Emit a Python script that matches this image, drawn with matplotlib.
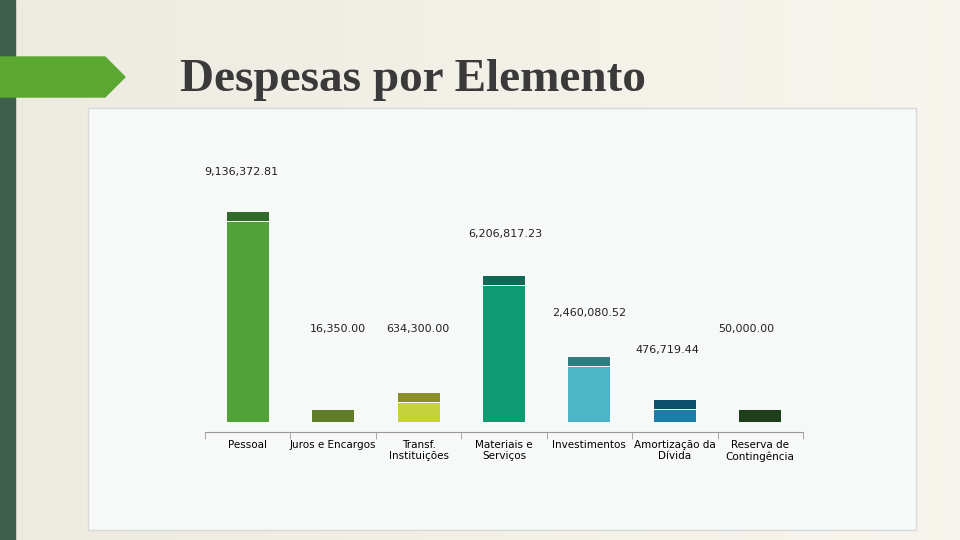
import matplotlib
matplotlib.use("Agg")
import matplotlib.pyplot as plt
import numpy as np
from matplotlib.patches import Rectangle, Polygon

categories = ["Pessoal", "Juros e Encargos", "Transf.\nInstituições", "Materiais e\nServiços",
              "Investimentos", "Amortização da\nDívida", "Reserva de\nContingência"]
value_labels = ["9,136,372.81", "16,350.00", "634,300.00", "6,206,817.23",
                "2,460,080.52", "476,719.44", "50,000.00"]
bar_heights = [210, 12, 29, 146, 65, 22, 12]  # visual heights as drawn in the slide
body_colors = ["#52a23a", "#5f7d28", "#c5d33b", "#0f9b72", "#4cb5c7", "#1a7fa8", "#1f3f1c"]
cap_colors = ["#2f6a2a", "#5f7d28", "#8c8e2c", "#0c6a55", "#327b82", "#0e4f70", "#1f3f1c"]

W, H = 960, 540
fig = plt.figure(figsize=(9.6, 5.4), dpi=100)
bg = fig.add_axes([0, 0, 1, 1]); bg.set_xlim(0, W); bg.set_ylim(H, 0); bg.axis("off")
grad = np.linspace(0, 1, 256)
img = np.zeros((2, 256, 3))
c1 = np.array([0.93, 0.92, 0.88]); c2 = np.array([0.97, 0.96, 0.93])
for i, t in enumerate(grad):
    img[:, i] = c1 * (1 - t) + c2 * t
bg.imshow(img, extent=[0, W, H, 0], aspect="auto", zorder=0)
bg.add_patch(Rectangle((0, 0), 15, H, color="#3d5e4a", zorder=1))
bg.add_patch(Polygon([(0, 57), (105, 57), (125, 77), (105, 97), (0, 97)], color="#5aa832", zorder=1))
bg.add_patch(Rectangle((88, 108), 828, 422, facecolor="#f7f8f8", edgecolor="#d8d8d8", zorder=1))
bg.text(180, 80, "Despesas por Elemento", fontsize=34, fontweight="bold",
        family="Liberation Serif", color="#3a3a3a", va="center", ha="left", zorder=2)

left, right, base, top = 205, 803, 432, 202
ax = fig.add_axes([left / W, 1 - base / H, (right - left) / W, (base - top) / H])
ax.patch.set_alpha(0)
x = np.arange(len(categories))
ax.set_xlim(-0.5, len(categories) - 0.5)
ax.set_ylim(-10, 220)
bw = 0.49
cap = 10
for i, h in enumerate(bar_heights):
    if h > cap + 4:
        ax.bar(x[i], h - cap, bottom=0, width=bw, color=body_colors[i])
        ax.bar(x[i], cap - 1.5, bottom=h - cap + 1.5, width=bw, color=cap_colors[i])
    else:
        ax.bar(x[i], h, bottom=0, width=bw, color=body_colors[i])
label_pos = [(-0.07, 250), (1.05, 93), (1.99, 93), (3.02, 188), (4.0, 109), (4.91, 72), (5.84, 93)]
for (lx, ly), t in zip(label_pos, value_labels):
    ax.text(lx, ly, t, ha="center", va="center", fontsize=8, color="#222")
for s in ["top", "right", "left"]:
    ax.spines[s].set_visible(False)
ax.spines["bottom"].set_color("#999")
ax.set_yticks([])
ax.set_xticks(np.arange(-0.5, len(categories)), minor=True)
ax.tick_params(axis="x", which="minor", length=5, color="#999")
ax.tick_params(axis="x", which="major", length=0, pad=6, labelsize=7.5)
ax.set_xticks(x)
ax.set_xticklabels(categories, linespacing=1.1)
ax.set_clip_on(False)
fig.savefig("out.png", dpi=100)
